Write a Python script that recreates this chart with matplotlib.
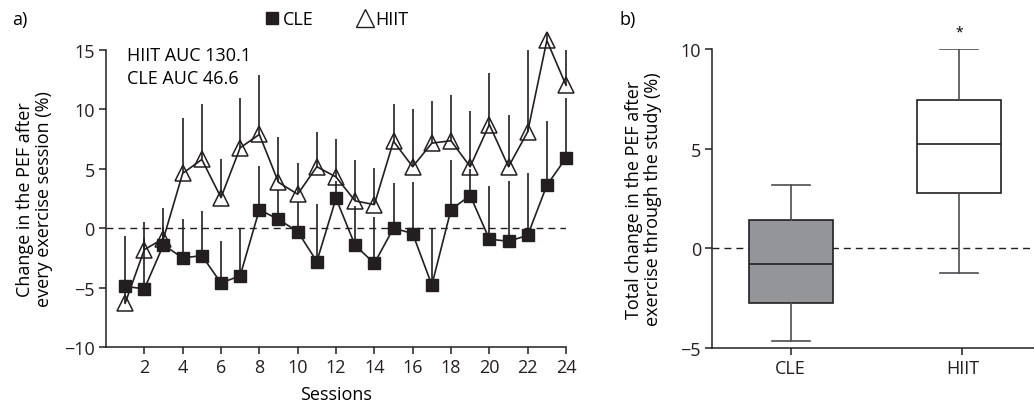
import numpy as np
import matplotlib.pyplot as plt
from matplotlib.lines import Line2D

plt.rcParams['font.family'] = ['Open Sans', 'DejaVu Sans']
plt.rcParams['font.size'] = 13

sessions = list(range(1, 25))
cle_mean = [-4.88, -5.1, -1.4, -2.5, -2.3, -4.6, -4.0, 1.56, 0.73, -0.28, -2.8, 2.5,
            -1.45, -2.95, 0.0, -0.45, -4.77, 1.56, 2.74, -0.92, -1.1, -0.6, 3.6, 5.9]
cle_err = [4.24, 5.66, 3.1, 3.25, 3.75, 3.5, 4.05, 3.65, 2.5, 2.5, 4.8, 1.5,
           3.3, 3.9, 3.8, 4.35, 4.77, 4.2, 2.2, 4.5, 5.1, 5.26, 5.4, 5.0]
hiit_mean = [-6.3, -1.8, -0.87, 4.6, 5.77, 2.57, 6.75, 7.87, 3.85, 2.85, 5.16, 4.3,
             2.29, 1.98, 7.3, 5.16, 7.14, 7.34, 5.16, 8.7, 5.16, 8.09, 15.76, 12.0]
hiit_err = [1.0, 1.0, 1.0, 4.66, 4.66, 3.2, 4.2, 5.0, 3.8, 2.65, 2.94, 3.2,
            3.4, 3.1, 3.1, 4.84, 3.56, 3.86, 4.7, 4.3, 4.34, 6.9, 0.7, 3.0]

box_labels = ['CLE', 'HIIT']
box_whislo = [-4.63, -1.25]
box_q1 = [-2.75, 2.78]
box_med = [-0.78, 5.23]
box_q3 = [1.4, 7.42]
box_whishi = [3.2, 10.0]
box_colors = ['#939598', 'white']

ink = '#231f20'

fig = plt.figure(figsize=(10.34, 4.14), dpi=100)
ax1 = fig.add_axes([0.1025, 0.1587, 0.4449, 0.7193])
ax2 = fig.add_axes([0.6886, 0.157, 0.3114, 0.7222])

# ---- panel a
ax1.axhline(0, color=ink, lw=1.0, ls=(0, (5, 3.6)), zorder=1)
ax1.errorbar(sessions, cle_mean, yerr=[np.zeros(24), cle_err], fmt='none',
             ecolor=ink, elinewidth=1.2, capsize=0, clip_on=False, zorder=2)
ax1.errorbar(sessions, hiit_mean, yerr=[np.zeros(24), hiit_err], fmt='none',
             ecolor=ink, elinewidth=1.2, capsize=0, clip_on=False, zorder=2)
ax1.plot(sessions, hiit_mean, '-', color=ink, lw=1.2, marker='^', ms=12,
         mfc='none', mec=ink, mew=1.1, clip_on=False, zorder=3)
ax1.plot(sessions, cle_mean, '-', color=ink, lw=1.2, marker='s', ms=8,
         mfc=ink, mec=ink, clip_on=False, zorder=4)

ax1.set_xlim(0, 24)
ax1.set_ylim(-10, 15)
ax1.set_xticks(range(2, 25, 2))
ax1.set_yticks([-10, -5, 0, 5, 10, 15])
ax1.set_yticklabels(['\u221210', '\u22125', '0', '5', '10', '15'])
ax1.set_xlabel('Sessions', labelpad=6)
ax1.set_ylabel('Change in the PEF after\nevery exercise session (%)', linespacing=1.05)
ax1.yaxis.set_label_coords(-0.115, 0.5)
ax1.text(0.045, 1.012, 'HIIT AUC 130.1\nCLE AUC 46.6', transform=ax1.transAxes,
         ha='left', va='top', linespacing=1.35)

handles = [Line2D([], [], ls='none', marker='s', ms=9, mfc=ink, mec=ink),
           Line2D([], [], ls='none', marker='^', ms=13, mfc='none', mec=ink, mew=1.0)]
ax1.legend(handles, ['CLE', 'HIIT'], loc='center', bbox_to_anchor=(0.5, 1.102),
           ncol=2, frameon=False, handlelength=0.9, handletextpad=0.15,
           columnspacing=2.4, borderaxespad=0)

# ---- panel b
stats = []
for i in range(2):
    stats.append({'label': box_labels[i], 'whislo': box_whislo[i], 'q1': box_q1[i],
                  'med': box_med[i], 'q3': box_q3[i], 'whishi': box_whishi[i],
                  'fliers': []})
ax2.axhline(0, color=ink, lw=1.0, ls=(0, (5, 3.6)), zorder=1)
bp = ax2.bxp(stats, positions=[1, 2], widths=0.5, capwidths=0.225, patch_artist=True,
             showfliers=False,
             boxprops=dict(edgecolor=ink, linewidth=1.2),
             medianprops=dict(color=ink, linewidth=1.2),
             whiskerprops=dict(color='#4d4d4f', linewidth=1.2),
             capprops=dict(color='#4d4d4f', linewidth=1.2))
for patch, c in zip(bp['boxes'], box_colors):
    patch.set_facecolor(c)
    patch.set_zorder(2)
ax2.text(2, 10.85, '*', ha='center', va='center', fontsize=10, clip_on=False)

ax2.set_xlim(0.532, 2.446)
ax2.set_ylim(-5, 10)
ax2.set_xticks([1, 2.02])
ax2.set_xticklabels(box_labels)
ax2.set_yticks([-5, 0, 5, 10])
ax2.set_yticklabels(['\u22125', '0', '5', '10'])
ax2.set_ylabel('Total change in the PEF after\nexercise through the study (%)', linespacing=1.05)
ax2.yaxis.set_label_coords(-0.155, 0.5)

for ax in (ax1, ax2):
    for s in ('top', 'right'):
        ax.spines[s].set_visible(False)
    for s in ('left', 'bottom'):
        ax.spines[s].set_linewidth(1.1)
        ax.spines[s].set_color(ink)
    ax.tick_params(length=5, width=1.1, color=ink, labelcolor=ink, pad=3)

fig.text(0.012, 0.952, 'a)', ha='left', va='center')
fig.text(0.599, 0.952, 'b)', ha='left', va='center')

fig.savefig('out.png', dpi=100)
